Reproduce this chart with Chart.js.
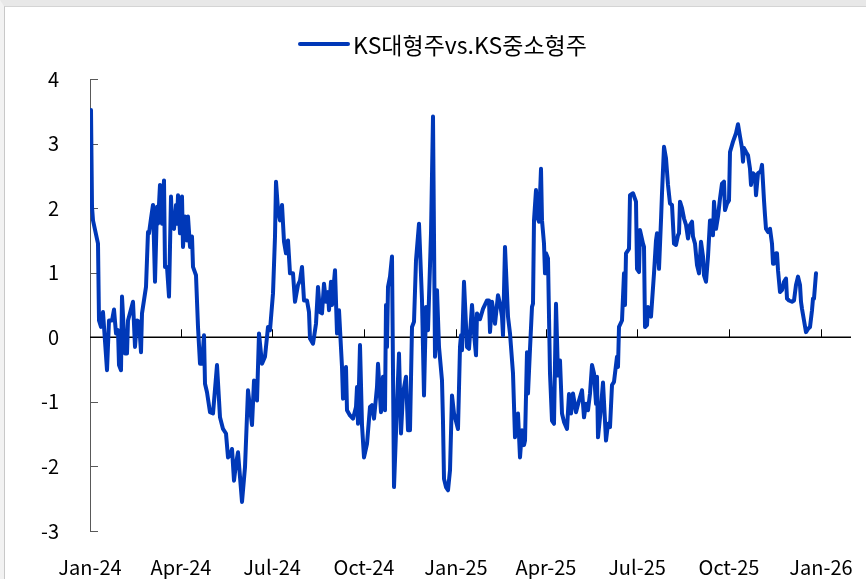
<!DOCTYPE html>
<html>
<head>
<meta charset="utf-8">
<script src="https://cdn.jsdelivr.net/npm/chart.js@4.4.1/dist/chart.umd.min.js"></script>
<style>
  body { margin: 0; background: #fff; }
  #wrap { position: relative; width: 866px; height: 579px; overflow: hidden; }
  #frame { position: absolute; left: 0; top: 0; width: 866px; height: 579px;
           box-sizing: border-box; border-top: 6px solid #e8e8e8; border-left: 4px solid #f2f2f2; }
  #frame::after { content: ''; position: absolute; left: 0; top: 0; right: 0; bottom: 0;
           border-top: 1px solid #d4d4d4; border-left: 1px solid #c8c8c8; }
  #legend { position: absolute; left: 298px; top: 28px; height: 32px; display: flex; align-items: center;
            font-family: 'Noto Sans CJK KR', 'Noto Sans', sans-serif; font-size: 23px; color: #000; white-space: nowrap; }
  #legend .swatch { display: inline-block; width: 52px; height: 4px; border-radius: 2px; margin-right: 3px; }
  canvas { position: absolute; left: 0; top: 0; }
</style>
</head>
<body>
<div id="wrap">
  <canvas id="spreadChart"></canvas>
  <div id="frame"></div>
  <div id="legend"></div>
</div>
<script>
// ===== data (x = days since 2024-01-01) =====
const seriesName = 'KS대형주vs.KS중소형주';

const days = [
  1, 2, 3, 8, 9, 11, 13, 17, 19, 22, 24, 26, 28, 29, 31, 32, 35, 37, 38, 43,
  45, 47, 49, 51, 52, 56, 58, 59, 61, 63, 65, 67, 68, 70, 72, 74, 75, 77, 79, 81,
  82, 84, 86, 87, 88, 90, 92, 93, 95, 97, 98, 100, 102, 103, 106, 108, 110, 112, 114, 115,
  117, 120, 123, 127, 130, 133, 136, 138, 140, 142, 144, 146, 148, 152, 155, 158, 162, 164, 167, 169,
  172, 175, 178, 180, 183, 185, 186, 188, 190, 192, 194, 196, 198, 200, 203, 205, 208, 210, 212, 214,
  217, 219, 220, 223, 226, 228, 230, 232, 234, 236, 238, 239, 241, 242, 245, 247, 249, 252, 253, 256,
  257, 260, 263, 266, 267, 268, 270, 272, 274, 277, 280, 282, 284, 287, 288, 291, 293, 295, 296, 297,
  298, 300, 302, 304, 307, 309, 311, 313, 316, 318, 320, 322, 324, 326, 329, 332, 334, 336, 338, 341,
  343, 345, 347, 349, 352, 353, 354, 356, 358, 360, 362, 364, 368, 370, 371, 372, 374, 377, 379, 382,
  384, 386, 387, 390, 393, 397, 399, 400, 402, 405, 408, 410, 412, 413, 415, 418, 420, 423, 425, 428,
  430, 432, 434, 435, 437, 438, 440, 442, 443, 444, 446, 447, 449, 451, 452, 454, 455, 456, 458, 460,
  462, 464, 466, 468, 470, 472, 474, 477, 479, 481, 483, 486, 489, 492, 494, 496, 498, 500, 502, 504,
  506, 507, 508, 511, 513, 516, 518, 520, 522, 524, 527, 528, 529, 532, 534, 535, 536, 539, 540, 543,
  546, 547, 549, 550, 553, 554, 555, 557, 558, 561, 564, 566, 567, 569, 571, 572, 574, 576, 578, 580,
  582, 584, 586, 588, 589, 590, 592, 594, 596, 598, 600, 602, 603, 605, 607, 609, 611, 613, 614, 616,
  618, 620, 622, 623, 624, 626, 628, 630, 632, 634, 635, 637, 639, 640, 643, 646, 648, 650, 652, 653,
  654, 656, 658, 660, 661, 663, 665, 666, 668, 670, 671, 672, 674, 675, 676, 678, 680, 682, 683, 684,
  686, 687, 688, 690, 692, 694, 696, 697, 699, 702, 704, 706, 708, 710, 711, 712, 714, 716, 718, 720,
  722, 723, 724, 726
];

const spread = [
  3.52, 2.02, 1.81, 1.45, 0.26, 0.16, 0.39, -0.51, 0.26, 0.26, 0.43, 0.06, 0.11, -0.43, -0.51, 0.63, -0.25, -0.25, 0.26, 0.55,
  -0.15, 0.26, 0.24, -0.23, 0.37, 0.78, 1.63, 1.61, 1.84, 2.05, 0.86, 2.02, 1.76, 2.36, 1.76, 2.43, 1.09, 1.09, 0.63, 2.18,
  1.71, 1.68, 2.05, 1.76, 2.20, 1.61, 2.18, 1.40, 1.87, 1.50, 1.87, 1.40, 1.56, 1.09, 0.96, 0.16, -0.41, -0.41, 0.03, -0.72,
  -0.85, -1.16, -1.18, -0.43, -1.24, -1.42, -1.49, -1.86, -1.83, -1.73, -2.22, -1.96, -1.78, -2.55, -2.01, -0.82, -1.36, -0.67, -0.98, 0.06,
  -0.41, -0.30, 0.16, 0.11, 0.68, 1.56, 2.41, 1.97, 1.81, 2.05, 1.48, 1.30, 1.50, 0.99, 0.99, 0.55, 0.81, 0.88, 1.09, 0.57,
  0.57, 0.39, -0.02, -0.10, 0.21, 0.78, 0.39, 0.37, 0.83, 0.55, 0.70, 0.42, 0.86, 0.50, 1.04, 0.06, 0.42, -0.46, -0.95, -0.46,
  -1.13, -1.21, -1.26, -1.08, -0.77, -1.34, -0.12, -1.36, -1.86, -1.65, -1.08, -1.05, -1.26, -0.77, -0.41, -1.16, -0.61, -1.13, 0.50, -0.15,
  0.78, 0.94, 1.25, -2.32, -1.05, -0.25, -1.49, -0.87, -0.61, -1.44, -1.44, 0.16, 0.24, 1.19, 1.76, 0.57, -0.90, 0.47, 0.11, 1.61,
  3.42, -0.30, 0.73, -0.15, -0.67, -1.31, -2.19, -2.32, -2.37, -2.06, -0.90, -1.18, -1.42, -0.15, 0.03, -0.20, 0.86, -0.15, -0.18, 0.50,
  0.06, -0.28, 0.37, 0.28, 0.44, 0.57, 0.57, 0.08, 0.55, 0.21, 0.65, 0.52, 0.32, 0.03, 1.40, 0.32, 0.06, -0.56, -1.55, -1.18,
  -1.86, -1.44, -1.67, -1.60, -0.23, -0.87, -0.18, 0.47, 0.52, 1.81, 2.28, 1.87, 1.79, 2.61, 1.81, 1.45, 0.99, 1.30, 1.22, -0.56,
  -1.29, -1.34, 0.52, -0.59, -0.36, -1.18, -1.31, -1.42, -0.88, -1.18, -0.87, -1.16, -0.98, -0.82, -1.24, -1.03, -1.13, -0.87, -0.43, -0.56,
  -1.03, -0.61, -1.55, -1.08, -0.70, -1.60, -1.34, -1.39, -0.74, -0.69, -0.30, -0.46, 0.16, 0.26, 0.99, 0.50, 1.30, 1.37, 2.20, 2.23,
  2.10, 1.06, 1.01, 1.66, 1.45, 1.40, 0.16, 0.19, 0.47, 0.32, 0.99, 1.50, 1.61, 1.06, 1.81, 2.23, 2.95, 2.77, 2.36, 2.07,
  2.05, 1.45, 1.43, 1.58, 1.61, 2.10, 2.00, 1.84, 1.74, 1.53, 1.74, 1.79, 1.56, 1.45, 1.12, 0.99, 1.48, 1.25, 0.96, 0.86,
  1.25, 1.81, 1.81, 1.58, 2.10, 1.68, 1.87, 2.15, 2.38, 2.41, 1.97, 2.07, 2.12, 2.87, 3.03, 3.16, 3.30, 3.11, 2.93, 2.72,
  2.93, 2.87, 2.82, 2.61, 2.36, 2.54, 2.51, 2.20, 2.54, 2.56, 2.59, 2.67, 2.12, 1.89, 1.68, 1.63, 1.68, 1.45, 1.14, 1.14,
  1.30, 1.30, 1.04, 0.70, 0.73, 0.86, 0.91, 0.60, 0.57, 0.55, 0.57, 0.81, 0.94, 0.81, 0.55, 0.44, 0.26, 0.08, 0.13, 0.16,
  0.42, 0.60, 0.60, 0.99
];

// quarter ticks on the x axis
const tickDays = [0, 91, 182, 274, 366, 456, 547, 639, 731];
const tickLabels = ['Jan-24', 'Apr-24', 'Jul-24', 'Oct-24', 'Jan-25', 'Apr-25', 'Jul-25', 'Oct-25', 'Jan-26'];

const lineColor = '#0038b8';
const fontFamily = "'Noto Sans CJK KR', 'Noto Sans', sans-serif";

// ===== 0선과 안쪽 눈금 그리기 =====
const axisDecor = {
    id: 'axisDecor',
    beforeDatasetsDraw(chart) {
        const {ctx, chartArea, scales} = chart;
        const x = scales.x, y = scales.y;
        const y0 = y.getPixelForValue(0);
        ctx.save();
        // y axis inner ticks
        ctx.strokeStyle = '#595959';
        ctx.lineWidth = 1;
        for (let v = -3; v <= 4; v++) {
            if (v === 0) continue;
            const py = Math.round(y.getPixelForValue(v)) + 0.5;
            ctx.beginPath();
            ctx.moveTo(chartArea.left, py);
            ctx.lineTo(chartArea.left + 8, py);
            ctx.stroke();
        }
        // zero line
        ctx.strokeStyle = '#000';
        ctx.lineWidth = 1.5;
        ctx.beginPath();
        ctx.moveTo(chartArea.left, y0);
        ctx.lineTo(chartArea.right, y0);
        ctx.stroke();
        // quarter ticks pointing up
        ctx.lineWidth = 1;
        tickDays.forEach(d => {
            if (d === 0) return;
            const px = Math.round(x.getPixelForValue(d)) + 0.5;
            ctx.beginPath();
            ctx.moveTo(px, y0);
            ctx.lineTo(px, y0 - 8);
            ctx.stroke();
        });
        ctx.restore();
    }
};

const ctx = document.getElementById('spreadChart').getContext('2d');
window.spreadChart = new Chart(ctx, {
    type: 'line',
    data: {
        datasets: [{
            label: seriesName,
            data: days.map((d, i) => ({x: d, y: spread[i]})),
            borderColor: lineColor,
            backgroundColor: lineColor,
            borderWidth: 4,
            pointRadius: 0,
            tension: 0,
            borderJoinStyle: 'round',
            borderCapStyle: 'round'
        }]
    },
    options: {
        responsive: true,
        maintainAspectRatio: false,
        animation: false,
        layout: { padding: { top: 79, right: 15, left: 0, bottom: 0 } },
        plugins: {
            legend: { display: false },
            tooltip: { enabled: false }
        },
        scales: {
            x: {
                type: 'linear',
                min: 0,
                max: 761,
                afterBuildTicks: s => { s.ticks = tickDays.map(v => ({value: v})); },
                afterFit: s => { s.height = 48; s.paddingLeft = 0; s.paddingRight = 0; },
                grid: { display: false, drawTicks: false },
                border: { display: false },
                ticks: {
                    autoSkip: false,
                    maxRotation: 0,
                    padding: 24,
                    color: '#000',
                    font: { family: fontFamily, size: 20 },
                    callback: v => tickLabels[tickDays.indexOf(v)]
                }
            },
            y: {
                min: -3,
                max: 4,
                afterFit: s => { s.width = 90; },
                grid: { drawOnChartArea: false, drawTicks: false },
                border: { display: true, color: '#595959', width: 1 },
                ticks: {
                    stepSize: 1,
                    padding: 31,
                    color: '#000',
                    font: { family: fontFamily, size: 20 }
                }
            }
        }
    },
    plugins: [axisDecor]
});

// ===== 범례 (HTML) =====
const ds = spreadChart.data.datasets[0];
document.getElementById('legend').innerHTML =
    '<span class="swatch" style="background:' + ds.borderColor + '"></span><span>' + ds.label + '</span>';
</script>
</body>
</html>
